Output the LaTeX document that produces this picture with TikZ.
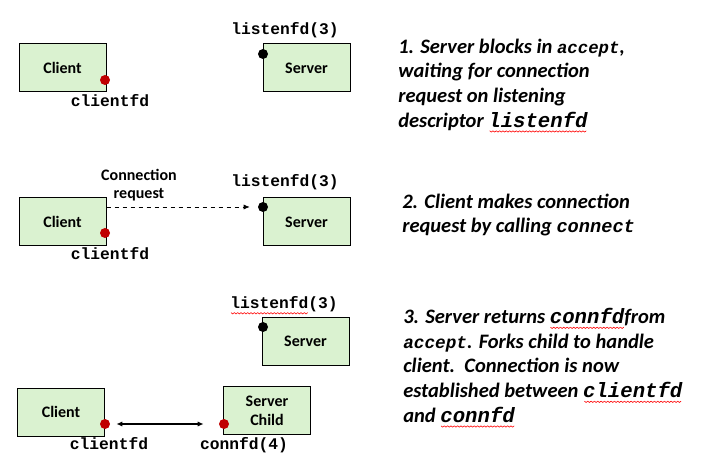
\documentclass[tikz,border=0pt]{standalone}
\usepackage{fontspec}
\setmainfont{Carlito}
\setmonofont{Liberation Mono}
\usetikzlibrary{arrows.meta}

\definecolor{boxgreen}{RGB}{218,242,208}
\definecolor{fdred}{RGB}{192,0,0}

% red wavy underline
\newsavebox\wavebox
\newsavebox\sqbox
\newcommand\squig[1]{\sbox\sqbox{#1}\rlap{\usebox\sqbox}%
 \raisebox{-3.2pt}{\hbox to \wd\sqbox{\cleaders\copy\wavebox\hfill}}}
% code words in the notes
\newcommand\code[2][15.5pt]{{\fontsize{#1}{18.5pt}\selectfont\ttfamily #2}}

\tikzset{
 box/.style={draw,fill=boxgreen,line width=0.75pt,minimum width=65.25pt,minimum height=36pt,
  align=center,font=\fontsize{12pt}{14pt}\selectfont\bfseries},
 fdlabel/.style={anchor=base,inner sep=0pt,font=\fontsize{12.2pt}{14pt}\selectfont\ttfamily\bfseries},
 reddot/.style={circle,fill=fdred,inner sep=0pt,minimum size=7.5pt},
 blackdot/.style={circle,fill=black,inner sep=0pt,minimum size=7.5pt},
 stepnote/.style={anchor=north west,align=left,inner sep=0pt,
  font=\fontsize{15.4pt}{18.5pt}\selectfont\bfseries\itshape}
}

\begin{document}
\sbox\wavebox{\begin{pgfpicture}%
 \pgfpathrectangle{\pgfpointorigin}{\pgfpoint{2.5pt}{0pt}}\pgfusepath{use as bounding box}%
 \pgfsetlinewidth{0.45pt}\pgfsetstrokecolor{red}%
 \pgfpathmoveto{\pgfpoint{0pt}{0.5pt}}\pgfpathlineto{\pgfpoint{1.25pt}{-0.5pt}}%
 \pgfpathlineto{\pgfpoint{2.5pt}{0.5pt}}\pgfusepath{stroke}%
\end{pgfpicture}}%
\begin{tikzpicture}[x=0.75pt,y=-0.75pt,>={Latex[length=4.5pt,width=3.8pt]}]
\useasboundingbox (0,0) rectangle (717,459);

% 1
\node [box] (client1) at (62.5,68) {Client};
\node [box] (server1) at (306.5,68) {Server};
\node [reddot] (cdot1) at (105,80) {};
\node [blackdot] (ldot1) at (263,54) {};
\node [fdlabel] (cfd1) at (110,107) {clientfd};
\node [fdlabel] (lfd1) at (285,34.3) {listenfd(3)};

\node [stepnote] (note1) at (398,38.5) {1. Server blocks in \code[13pt]{accept},\\
waiting for connection\\
request on listening\\
descriptor \squig{\code{listenfd}}};

% 2
\node [box] (client2) at (62.5,222) {Client};
\node [box] (server2) at (306.5,222) {Server};
\node [reddot] (cdot2) at (105,233) {};
\node [blackdot] (ldot2) at (263,207) {};
\node [fdlabel] (cfd2) at (110,259.3) {clientfd};
\node [fdlabel] (lfd2) at (285,186.7) {listenfd(3)};
\node [anchor=north,inner sep=0pt,align=center,font=\fontsize{12pt}{13.8pt}\selectfont\bfseries]
 (req) at (139,169) {Connection\\ request};

\draw 
[ -> , dashed, line width=0.6pt, shorten >=6pt] 
(client2.east |- ldot2)--(ldot2);

\node [stepnote] (note2) at (402,193.5) {2. Client makes connection\\
request by calling \code[14pt]{connect}};

% 3
\node [box] (server3) at (305.5,341.5) {Server};
\node [blackdot] (ldot3) at (263,327) {};
\node [fdlabel] (lfd3) at (284,309) {\squig{listenfd}(3)};

\node [box] (client3) at (61,412) {Client};
\node [box] (child3) at (267,410.5) {Server\\ Child};
\node [reddot] (cdot3) at (105,424) {};
\node [reddot] (sdot3) at (224,424) {};
\node [fdlabel] (cfd3) at (109,449.3) {clientfd};
\node [fdlabel] (confd3) at (244,449.3) {connfd(4)};

\draw 
[ <-> , line width=1.1pt, shorten <=4.5pt, shorten >=11.25pt] 
(cdot3)--(sdot3);

\node [stepnote] (note3) at (403,308) {3. Server returns \squig{\code{connfd}}from\\
\code[13.3pt]{accept}. Forks child to handle\\
client.\ \ Connection is now\\
established between \squig{\code{clientfd}}\\
and \squig{\code{connfd}}};

\end{tikzpicture}
\end{document}
